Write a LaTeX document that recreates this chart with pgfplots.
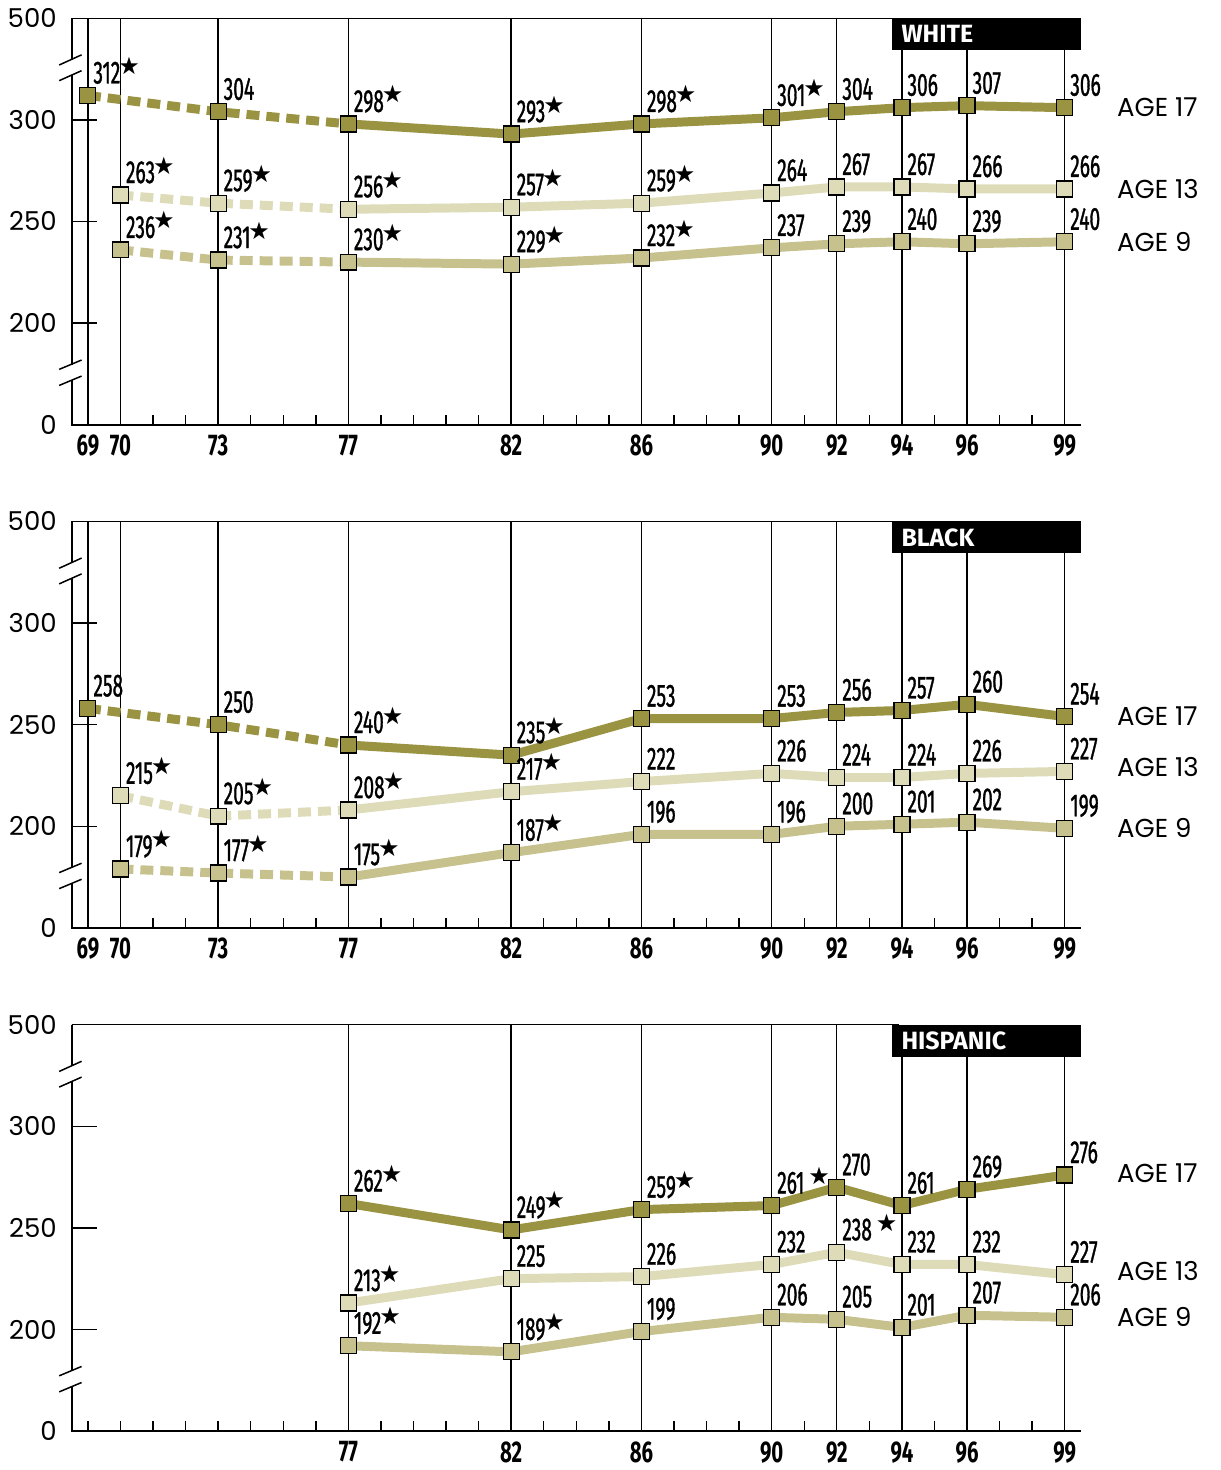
\documentclass[border=0pt]{standalone}
\usepackage{pgfplots}
\usepackage{pgfplotstable}
\pgfplotsset{compat=1.18}
\usepackage{fontspec}
\setmainfont{Poppins}
\newfontfamily\numfont{Fira Sans}[FakeStretch=0.6, FakeBold=1]
\newfontfamily\xfont{Fira Sans}[FakeStretch=0.68]
\newfontfamily\boxfont{Fira Sans}
\newfontfamily\starfont{DejaVu Sans}
\definecolor{cA}{RGB}{154,148,66}
\definecolor{cB}{RGB}{221,219,184}
\definecolor{cC}{RGB}{198,193,141}
\newcommand\s{\kern-1pt\raisebox{4.5pt}{\starfont\fontsize{12}{12}\selectfont ★}}
\newcommand\sq{\kern2pt\raisebox{4.5pt}{\starfont\fontsize{12}{12}\selectfont ★}}

% WHITE
\pgfplotstableread{
x y lab
69 312 312\s
73 304 304
77 298 298\s
82 293 293\s
86 298 298\s
90 301 301\s
92 304 304
94 306 306
96 307 307
99 306 306
}\wA
\pgfplotstableread{
x y lab
70 263 263\s
73 259 259\s
77 256 256\s
82 257 257\s
86 259 259\s
90 264 264
92 267 267
94 267 267
96 266 266
99 266 266
}\wB
\pgfplotstableread{
x y lab
70 236 236\s
73 231 231\s
77 230 230\s
82 229 229\s
86 232 232\s
90 237 237
92 239 239
94 240 240
96 239 239
99 240 240
}\wC
% BLACK
\pgfplotstableread{
x y lab
69 258 258
73 250 250
77 240 240\s
82 235 235\s
86 253 253
90 253 253
92 256 256
94 257 257
96 260 260
99 254 254
}\bA
\pgfplotstableread{
x y lab
70 215 215\s
73 205 205\s
77 208 208\s
82 217 217\s
86 222 222
90 226 226
92 224 224
94 224 224
96 226 226
99 227 227
}\bB
\pgfplotstableread{
x y lab
70 179 179\s
73 177 177\s
77 175 175\s
82 187 187\s
86 196 196
90 196 196
92 200 200
94 201 201
96 202 202
99 199 199
}\bC
% HISPANIC
\pgfplotstableread{
x y lab
77 262 262\s
82 249 249\s
86 259 259\s
90 261 261\sq
92 270 270
94 261 261
96 269 269
99 276 276
}\hA
\pgfplotstableread{
x y lab
77 213 213\s
82 225 225
86 226 226
90 232 232
92 238 238\sq
94 232 232
96 232 232
99 227 227
}\hB
\pgfplotstableread{
x y lab
77 192 192\s
82 189 189\s
86 199 199
90 206 206
92 205 205
94 201 201
96 207 207
99 206 206
}\hC

\tikzset{agelab/.style={anchor=west, inner sep=0pt, font=\fontsize{13}{13}\selectfont}}
\pgfplotsset{
 panel/.style={
  scale only axis, width=505.5pt, height=203.5pt,
  xmin=68.5, xmax=99.5, ymin=150, ymax=350,
  clip=false,
  axis line style={draw=none},
  ytick={150,200,250,300,350}, yticklabels={0,200,250,300,500},
  minor xtick={69,...,99},
  xtick pos=bottom, ytick pos=left,
  tick align=inside,
  major tick length=12.5pt, minor tick length=5pt,
  tick style={black, line width=0.7pt},
  xmajorgrids, major grid style={black, line width=0.7pt},
  xticklabel style={font=\xfont\bfseries\fontsize{15}{15}\selectfont, inner sep=0pt, anchor=north, yshift=-5pt},
  yticklabel style={font=\fontsize{13}{13}\selectfont, inner sep=0pt, anchor=east, xshift=-7.3pt},
  after end axis/.code={
   \draw[line width=1pt] (rel axis cs:0,1) -- (rel axis cs:0,0) -- (rel axis cs:1,0);
   \draw[line width=0.75pt] (rel axis cs:0,1) -- (rel axis cs:0.82,1);
   \fill[white] ([xshift=-2pt]axis cs:68.5,322.3) rectangle ([xshift=2pt]axis cs:68.5,329.5);
   \fill[white] ([xshift=-2pt]axis cs:68.5,172.1) rectangle ([xshift=2pt]axis cs:68.5,179.4);
   \draw[line width=0.75pt] ([xshift=-6.2pt]axis cs:68.5,327) -- ([xshift=5pt]axis cs:68.5,332);
   \draw[line width=0.75pt] ([xshift=-6.2pt]axis cs:68.5,319.3) -- ([xshift=5pt]axis cs:68.5,324.2);
   \draw[line width=0.75pt] ([xshift=-6.2pt]axis cs:68.5,177.2) -- ([xshift=5pt]axis cs:68.5,181.8);
   \draw[line width=0.75pt] ([xshift=-6.2pt]axis cs:68.5,169.3) -- ([xshift=5pt]axis cs:68.5,173.9);
  },
 },
 ln/.style={color=#1, line width=4.5pt, no markers, line join=round},
 dsh/.style={dash pattern=on 6.5pt off 3.5pt},
 mk/.style={only marks, mark=square*, mark size=4pt,
   mark options={draw=black, line width=0.6pt, fill=#1},
   nodes near coords, point meta=explicit symbolic,
   every node near coord/.append style={anchor=base west, inner sep=0pt, xshift=2.5pt, yshift=6pt,
     font=\numfont\fontsize{16}{16}\selectfont, text=black}},
}
\newcommand\boxlab[1]{%
 \fill[black] (rel axis cs:0.8129,1) rectangle ([yshift=-16pt]rel axis cs:1,1);
 \node[anchor=west, text=white, inner sep=0pt, font=\boxfont\bfseries\fontsize{12.5}{12.5}\selectfont]
   at ([xshift=4.5pt,yshift=-8pt]rel axis cs:0.8129,1) {#1};}

\begin{document}
\begin{tikzpicture}
% ---------------- WHITE
\begin{axis}[panel, at={(0,0)}, anchor=north west,
  xtick={69,70,73,77,82,86,90,92,94,96,99},
  xticklabels={69,70,73,77,82,86,90,92,94,96,99}]
\addplot[ln=cA, dsh, restrict x to domain=69:77] table[x=x,y=y]{\wA};
\addplot[ln=cA, restrict x to domain=77:99] table[x=x,y=y]{\wA};
\addplot[ln=cB, dsh, restrict x to domain=69:77] table[x=x,y=y]{\wB};
\addplot[ln=cB, restrict x to domain=77:99] table[x=x,y=y]{\wB};
\addplot[ln=cC, dsh, restrict x to domain=69:77] table[x=x,y=y]{\wC};
\addplot[ln=cC, restrict x to domain=77:99] table[x=x,y=y]{\wC};
\addplot[mk=cA] table[x=x,y=y,meta=lab]{\wA};
\addplot[mk=cB] table[x=x,y=y,meta=lab]{\wB};
\addplot[mk=cC] table[x=x,y=y,meta=lab]{\wC};
\node[agelab] at (axis cs:100.6,306) {AGE 17};
\node[agelab] at (axis cs:100.6,266) {AGE 13};
\node[agelab] at (axis cs:100.6,240) {AGE 9};
\boxlab{WHITE}
\end{axis}
% ---------------- BLACK
\begin{axis}[panel, at={(0,-252pt)}, anchor=north west,
  xtick={69,70,73,77,82,86,90,92,94,96,99},
  xticklabels={69,70,73,77,82,86,90,92,94,96,99}]
\addplot[ln=cA, dsh, restrict x to domain=69:77] table[x=x,y=y]{\bA};
\addplot[ln=cA, restrict x to domain=77:99] table[x=x,y=y]{\bA};
\addplot[ln=cB, dsh, restrict x to domain=69:77] table[x=x,y=y]{\bB};
\addplot[ln=cB, restrict x to domain=77:99] table[x=x,y=y]{\bB};
\addplot[ln=cC, dsh, restrict x to domain=69:77] table[x=x,y=y]{\bC};
\addplot[ln=cC, restrict x to domain=77:99] table[x=x,y=y]{\bC};
\addplot[mk=cA] table[x=x,y=y,meta=lab]{\bA};
\addplot[mk=cB] table[x=x,y=y,meta=lab]{\bB};
\addplot[mk=cC] table[x=x,y=y,meta=lab]{\bC};
\node[agelab] at (axis cs:100.6,254) {AGE 17};
\node[agelab] at (axis cs:100.6,229) {AGE 13};
\node[agelab] at (axis cs:100.6,199) {AGE 9};
\boxlab{BLACK}
\end{axis}
% ---------------- HISPANIC
\begin{axis}[panel, at={(0,-504pt)}, anchor=north west,
  xtick={77,82,86,90,92,94,96,99},
  xticklabels={77,82,86,90,92,94,96,99}]
\addplot[ln=cA] table[x=x,y=y]{\hA};
\addplot[ln=cB] table[x=x,y=y]{\hB};
\addplot[ln=cC] table[x=x,y=y]{\hC};
\addplot[mk=cA] table[x=x,y=y,meta=lab]{\hA};
\addplot[mk=cB] table[x=x,y=y,meta=lab]{\hB};
\addplot[mk=cC] table[x=x,y=y,meta=lab]{\hC};
\node[agelab] at (axis cs:100.6,277) {AGE 17};
\node[agelab] at (axis cs:100.6,229) {AGE 13};
\node[agelab] at (axis cs:100.6,206) {AGE 9};
\boxlab{HISPANIC}
\end{axis}
\pgfresetboundingbox
\path[use as bounding box] (-35.85pt,9.15pt) rectangle (575.15pt,-727pt);
\end{tikzpicture}
\end{document}
